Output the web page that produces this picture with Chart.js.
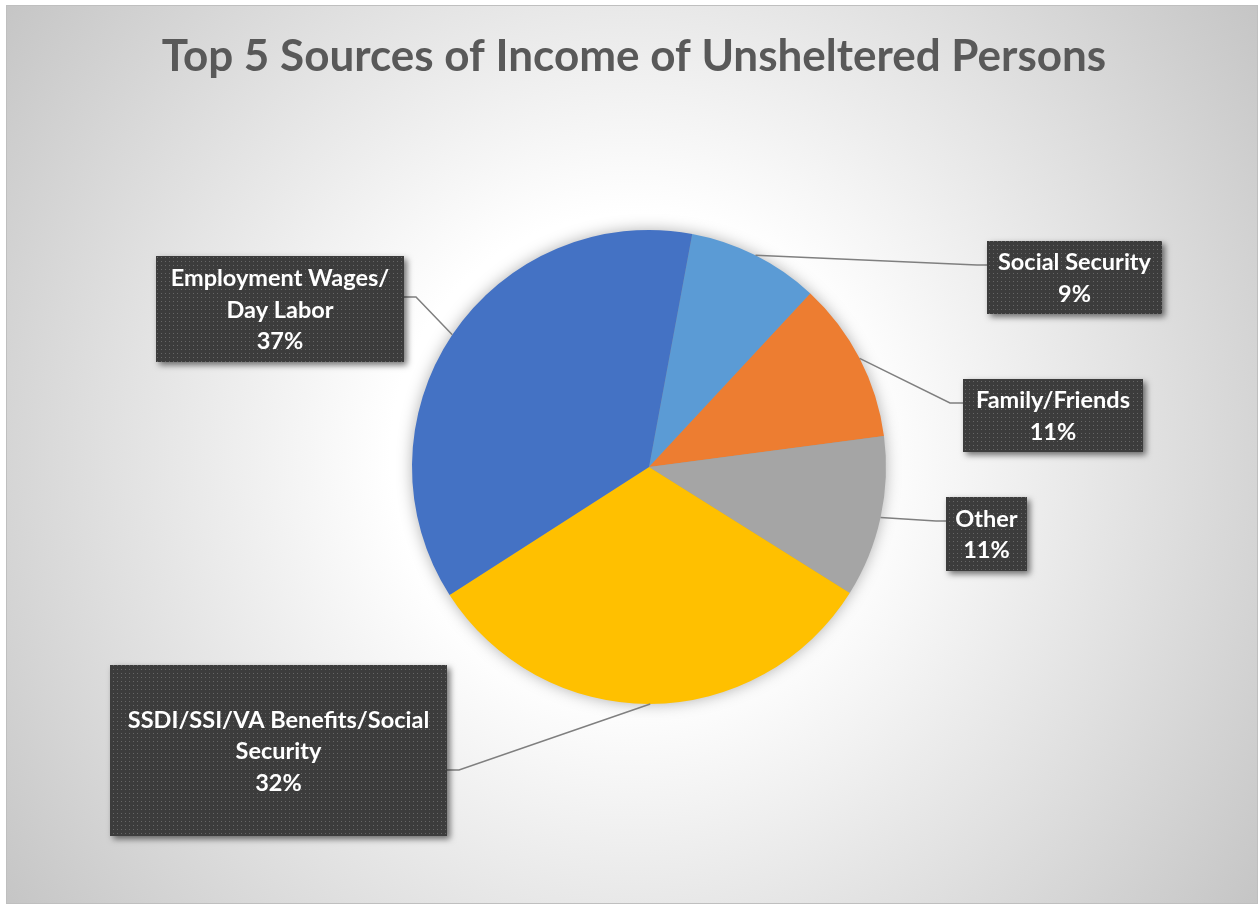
<!DOCTYPE html>
<html>
<head>
<meta charset="utf-8">
<title>Top 5 Sources of Income of Unsheltered Persons</title>
<script src="https://cdn.jsdelivr.net/npm/chart.js@4.4.1/dist/chart.umd.min.js"></script>
<style>
  html, body { margin: 0; padding: 0; background: #fff; }
  canvas { display: block; }
</style>
</head>
<body>
<canvas id="income-chart" width="1260" height="905"></canvas>
<script>
const chartTitle = 'Top 5 Sources of Income of Unsheltered Persons';
const categories = ['Social Security', 'Family/Friends', 'Other', 'SSDI/SSI/VA Benefits/Social Security', 'Employment Wages/ Day Labor'];
const shares = [9, 11, 11, 32, 37];
const sliceColors = ['#5B9BD5', '#ED7D31', '#A5A5A5', '#FFC000', '#4472C4'];
// how the callout text wraps in the original
const labelLines = [['Social Security'], ['Family/Friends'], ['Other'], ['SSDI/SSI/VA Benefits/Social', 'Security'], ['Employment Wages/', 'Day Labor']];

// callout boxes: x, y, w, h, leader attach y, elbow x
const callouts = [
  { x: 987, y: 241, w: 175, h: 73, ay: 265, ex: 977 },
  { x: 963, y: 379, w: 180, h: 73, ay: 403, ex: 950 },
  { x: 946, y: 497, w: 81, h: 74, ay: 521, ex: 936 },
  { x: 110, y: 665, w: 337, h: 171, ay: 770, ex: 459 },
  { x: 156, y: 256, w: 248, h: 106, ay: 297, ex: 416 },
];

const canvas = document.getElementById('income-chart');

// dotted dark fill used by the callout boxes
function makeDots(ctx) {
  const p = document.createElement('canvas');
  p.width = 4; p.height = 4;
  const c = p.getContext('2d');
  c.fillStyle = '#3c3c3c';
  c.fillRect(0, 0, 4, 4);
  c.fillStyle = '#666666';
  c.fillRect(1, 1, 1, 1);
  return ctx.createPattern(p, 'repeat');
}

const decorPlugin = {
  id: 'decor',
  beforeDraw(chart) {
    const ctx = chart.ctx;
    ctx.save();
    ctx.fillStyle = '#fff';
    ctx.fillRect(0, 0, chart.width, chart.height);
    const g = ctx.createRadialGradient(631, 454, 0, 631, 454, 800);
    g.addColorStop(0, '#ffffff');
    g.addColorStop(0.3, '#ffffff');
    g.addColorStop(1, '#c2c2c2');
    ctx.fillStyle = g;
    ctx.fillRect(6, 5, 1251, 898);
    ctx.strokeStyle = '#bfbfbf';
    ctx.lineWidth = 1;
    ctx.strokeRect(6.5, 5.5, 1251, 898);

    ctx.font = 'bold 44px Lato';
    ctx.fillStyle = '#595959';
    ctx.textAlign = 'center';
    ctx.textBaseline = 'middle';
    ctx.fillText(chartTitle, 634, 57);
    ctx.restore();
  },
  beforeDatasetsDraw(chart) {
    const arc = chart.getDatasetMeta(0).data[0];
    const ctx = chart.ctx;
    ctx.save();
    ctx.shadowColor = 'rgba(0,0,0,0.35)';
    ctx.shadowBlur = 16;
    ctx.fillStyle = '#999';
    ctx.beginPath();
    ctx.arc(arc.x, arc.y, arc.outerRadius - 1, 0, Math.PI * 2);
    ctx.fill();
    ctx.restore();
  },
  afterDatasetsDraw(chart) {
    const ctx = chart.ctx;
    const meta = chart.getDatasetMeta(0);
    const dots = makeDots(ctx);
    meta.data.forEach((arc, i) => {
      const co = callouts[i];
      const mid = (arc.startAngle + arc.endAngle) / 2;
      const sx = arc.x + Math.cos(mid) * arc.outerRadius;
      const sy = arc.y + Math.sin(mid) * arc.outerRadius;
      const edge = co.ex > co.x ? co.x + co.w : co.x;

      ctx.save();
      ctx.strokeStyle = '#7f7f7f';
      ctx.lineWidth = 1.5;
      ctx.beginPath();
      ctx.moveTo(sx, sy);
      ctx.lineTo(co.ex, co.ay);
      ctx.lineTo(edge, co.ay);
      ctx.stroke();

      ctx.shadowColor = 'rgba(0,0,0,0.55)';
      ctx.shadowBlur = 6;
      ctx.shadowOffsetX = 3;
      ctx.shadowOffsetY = 3;
      ctx.fillStyle = dots;
      ctx.fillRect(co.x, co.y, co.w, co.h);
      ctx.restore();

      ctx.save();
      const lines = labelLines[i].concat([Math.round(shares[i]) + '%']);
      const lh = 31.5;
      const cy = co.y + co.h / 2 + 1;
      ctx.font = 'bold 23.5px Lato';
      ctx.fillStyle = '#fff';
      ctx.textAlign = 'center';
      ctx.textBaseline = 'middle';
      lines.forEach((t, k) => {
        ctx.fillText(t, co.x + co.w / 2, cy + (k - (lines.length - 1) / 2) * lh);
      });
      ctx.restore();
    });
  }
};

new Chart(canvas, {
  type: 'pie',
  data: {
    labels: categories,
    datasets: [{
      data: shares,
      backgroundColor: sliceColors,
      borderWidth: 0,
      hoverOffset: 0,
    }],
  },
  options: {
    responsive: false,
    animation: false,
    rotation: 10.5,
    layout: { padding: { left: 412, right: 374, top: 230, bottom: 201 } },
    plugins: {
      legend: { display: false },
      tooltip: { enabled: false },
      title: { display: false },
    },
  },
  plugins: [decorPlugin],
});
</script>
</body>
</html>
